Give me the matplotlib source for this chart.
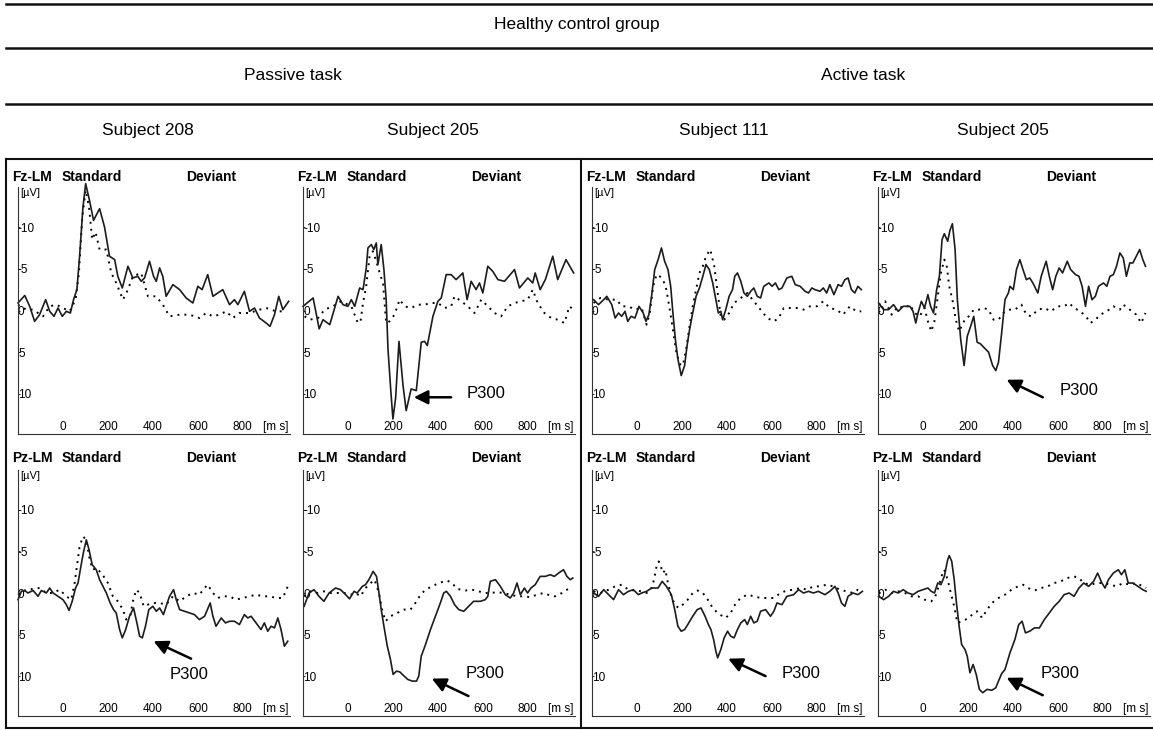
import matplotlib
matplotlib.use('Agg')
import matplotlib.pyplot as plt
from matplotlib.lines import Line2D

plt.rcParams['font.family'] = 'Liberation Sans'

W, H = 1153, 730

# ERP curves: time in ms, amplitude in uV (negative plotted upward)
# Fz-LM, passive task, subject 208
fz_208_dev_t = [-200, -170, -148, -126, -104, -77, -59, -40, -22, -3, 15, 33, 47, 62, 74, 89, 101, 118, 136, 163,
                185, 207, 230, 244, 264, 289, 311, 333, 348, 363, 385, 403, 415, 430, 444, 459, 489, 519, 548, 578,
                600, 619, 644, 667, 689, 711, 741, 763, 778, 807, 830, 852, 874, 904, 921, 941, 960, 978, 1004]
fz_208_dev_v = [-0.9, -1.8, -0.5, 1.3, 0.5, -1.3, 0.1, 0.7, -0.3, 0.7, 0.1, 0.3, -1.3, -2.5, -6.5, -12.4, -15.2, -13.2, -10.8, -12.2,
                -10.0, -6.5, -6.1, -4.1, -2.7, -5.3, -3.9, -4.1, -3.5, -3.9, -5.9, -4.1, -3.5, -5.1, -4.1, -1.7, -3.1, -2.5, -1.5, -0.9,
                -2.9, -2.5, -4.3, -1.7, -2.1, -2.5, -0.7, -1.3, -0.7, -2.3, 0.1, -0.3, 0.9, 1.5, 1.9, 0.5, -1.7, -0.1, -1.1]
fz_208_std_t = [-200, -163, -133, -89, -59, -30, 0, 30, 56, 71, 86, 101, 116, 130, 145, 163, 193, 215, 237, 267,
                289, 311, 348, 378, 415, 444, 474, 519, 563, 607, 637, 667, 696, 726, 756, 785, 830, 874, 904, 948, 993]
fz_208_std_v = [-0.7, -0.1, -0.1, 0.7, -0.5, -0.7, -0.3, 0.1, -1.3, -4.5, -11.2, -14.4, -12.4, -8.5, -9.4, -7.3, -7.3, -4.5, -3.3, -1.3,
                -2.5, -4.1, -4.5, -1.7, -1.7, -0.7, 0.7, 0.5, 0.5, 0.9, 0.3, 0.7, 0.5, 0.1, 0.9, 0.3, 0.3, -0.1, -0.3, 0.1, 0.1]

# Fz-LM, passive task, subject 205
fz_205p_dev_t = [-200, -155, -128, -111, -81, -44, -22, 0, 15, 30, 52, 67, 81, 89, 104, 115, 126, 133, 148, 160,
                 170, 178, 190, 200, 212, 227, 245, 259, 281, 304, 326, 341, 353, 378, 400, 415, 437, 459, 481, 511,
                 530, 548, 570, 585, 600, 622, 644, 667, 696, 741, 763, 800, 822, 833, 855, 878, 911, 933, 970, 1004]
fz_205p_dev_v = [-0.5, -1.5, 2.2, 1.1, 1.7, -1.7, -0.7, -0.5, -1.3, -0.5, -2.7, -2.5, -5.0, -7.5, -7.9, -7.3, -8.1, -5.5, -7.9, -4.9,
                 -1.3, 4.6, 9.4, 13.0, 10.5, 3.7, 9.0, 12.0, 9.4, 9.6, 3.8, 3.7, 4.2, 0.7, -1.1, -1.5, -4.3, -4.3, -3.7, -4.5,
                 -1.3, -3.5, -2.5, -3.3, -2.1, -5.3, -4.7, -3.7, -3.5, -4.9, -2.7, -3.9, -3.3, -4.5, -2.5, -3.7, -6.5, -3.7, -6.1, -4.5]
fz_205p_std_t = [-193, -170, -133, -104, -67, -30, 15, 44, 56, 67, 81, 96, 111, 126, 141, 156, 170, 185, 207, 230,
                 252, 281, 311, 341, 370, 400, 430, 459, 474, 504, 533, 563, 593, 622, 652, 681, 711, 741, 770, 800,
                 822, 844, 874, 904, 933, 963, 985, 1004]
fz_205p_std_v = [0.7, 1.1, 0.9, -0.1, -0.5, -1.1, -0.5, 1.5, 1.3, -0.9, -2.9, -6.5, -7.1, -5.9, -4.5, -3.3, 1.5, 1.3, 0.5, -1.3,
                 -0.5, -0.3, -0.7, -0.7, -0.9, -0.9, -0.3, -0.5, -1.7, -1.1, -0.5, 0.3, -1.3, -0.5, 0.3, 0.7, -0.5, -0.9, -1.1, -1.3,
                 -2.5, -0.9, 0.3, 0.9, 1.1, 1.5, -0.5, -0.1]

# Fz-LM, active task, subject 111
fz_111_dev_t = [-193, -171, -148, -134, -112, -97, -82, -68, -53, -41, -26, -9, 9, 28, 40, 53, 65, 79, 94, 109,
                123, 138, 150, 160, 171, 182, 197, 212, 223, 234, 248, 263, 278, 293, 307, 322, 337, 351, 362, 373,
                381, 395, 410, 425, 435, 447, 462, 476, 491, 506, 520, 535, 550, 564, 587, 601, 616, 631, 645, 667,
                689, 704, 726, 748, 763, 778, 792, 814, 829, 844, 858, 876, 895, 910, 925, 939, 954, 969, 983, 998]
fz_111_dev_v = [-1.3, -0.7, -1.3, -1.7, -0.7, 0.9, 0.3, 0.7, 0.1, 1.3, 0.7, 0.9, -0.5, 0.3, 1.3, 0.5, -1.7, -4.9, -6.1, -7.5,
                -5.9, -4.9, -2.9, 0.3, 3.5, 5.8, 7.8, 6.6, 4.2, 2.3, 0.3, -1.7, -2.7, -4.1, -5.5, -4.9, -3.3, -1.3, 0.3, 0.1,
                1.1, -0.1, -1.7, -2.5, -4.1, -4.5, -3.5, -2.1, -1.7, -2.3, -2.7, -1.7, -1.5, -2.9, -3.3, -2.9, -3.3, -2.5, -2.7, -3.9,
                -4.1, -3.1, -2.9, -2.3, -2.1, -2.7, -2.5, -2.3, -2.7, -2.1, -3.1, -1.9, -3.1, -2.9, -3.7, -3.9, -2.5, -2.1, -2.9, -2.5]
fz_111_std_t = [-193, -163, -126, -90, -68, -38, -9, 21, 43, 57, 72, 87, 101, 116, 131, 146, 160, 175, 190, 204,
                219, 234, 248, 263, 278, 293, 307, 326, 344, 359, 373, 388, 410, 432, 462, 491, 520, 550, 579, 609,
                631, 653, 682, 711, 741, 770, 800, 829, 858, 888, 917, 947, 976, 998]
fz_111_std_v = [-0.9, -1.5, -1.3, -1.3, -0.5, -0.5, -0.1, -0.3, 1.7, 0.3, -2.9, -4.3, -4.1, -3.7, -2.5, -0.1, 2.3, 5.0, 6.4, 6.6,
                4.6, 1.9, -0.5, -2.5, -4.5, -5.3, -6.5, -7.3, -5.3, -2.1, 0.7, 1.1, 0.3, -0.9, -1.5, -2.1, -1.1, -0.1, 0.9, 1.3,
                0.9, -0.3, -0.3, -0.3, -0.1, -0.5, -0.5, -1.1, -0.3, -0.1, 0.5, -0.5, 0.1, 0.1]

# Fz-LM, active task, subject 205
fz_205a_dev_t = [-197, -175, -153, -131, -110, -88, -58, -44, -32, -22, -7, 7, 22, 34, 47, 61, 73, 85, 95, 110,
                 120, 131, 143, 153, 168, 183, 197, 212, 226, 241, 256, 270, 292, 310, 324, 336, 350, 365, 380, 387,
                 402, 416, 431, 445, 460, 475, 489, 511, 526, 548, 562, 577, 591, 606, 621, 642, 657, 679, 694, 708,
                 723, 737, 752, 767, 781, 803, 818, 832, 847, 861, 876, 891, 905, 920, 934, 949, 964, 978, 990]
fz_205a_dev_v = [-0.9, -0.1, -0.1, -0.7, 0.1, -0.5, -0.5, 0.1, 1.5, 0.3, -1.1, -0.3, -1.9, -0.5, 0.3, -2.5, -4.1, -8.5, -9.2, -8.3,
                 -9.6, -10.4, -7.3, -1.3, 3.5, 6.6, 3.1, 1.9, 0.7, 3.8, 4.0, 4.4, 5.0, 6.6, 7.2, 6.2, 2.7, -1.3, -2.1, -2.9,
                 -2.5, -4.9, -6.1, -4.9, -3.7, -3.9, -3.3, -2.1, -4.1, -5.9, -4.1, -2.5, -4.1, -5.1, -4.5, -5.9, -4.9, -4.3, -4.1, -2.9,
                 -0.5, -2.9, -1.3, -1.7, -2.9, -3.3, -2.9, -4.1, -4.3, -5.3, -6.9, -6.3, -4.1, -5.7, -5.7, -6.5, -7.3, -6.1, -5.3]
fz_205a_std_t = [-197, -168, -139, -110, -80, -58, -37, -15, 7, 22, 37, 51, 66, 80, 95, 105, 117, 131, 146, 161,
                 175, 190, 204, 226, 248, 270, 292, 314, 336, 358, 380, 409, 438, 460, 482, 511, 540, 569, 599, 628,
                 650, 672, 701, 730, 745, 767, 789, 818, 847, 876, 891, 920, 949, 971, 990]
fz_205a_std_v = [-0.7, -1.1, 0.5, -0.5, -0.3, -0.7, 0.3, 0.7, -0.3, 1.3, 2.5, 1.3, -1.7, -4.5, -6.1, -5.5, -2.9, -1.3, 1.1, 2.5,
                 1.7, 0.9, 0.7, -0.1, -0.1, -0.3, -0.1, 1.1, 1.1, 0.3, -0.1, -0.1, -0.7, 0.5, 0.7, -0.1, -0.3, 0.1, -0.5, -0.5,
                 -0.9, -0.3, 0.1, 0.9, 1.5, 1.1, 0.5, 0.1, -0.5, -0.1, -0.7, -0.1, 0.5, 1.5, 0.3]

# Pz-LM, passive task, subject 208
pz_208_dev_t = [-200, -185, -170, -156, -133, -111, -96, -74, -59, -44, -22, 0, 15, 27, 41, 56, 67, 81, 92, 104,
                116, 130, 148, 163, 178, 193, 210, 225, 237, 252, 264, 279, 296, 314, 329, 341, 353, 367, 382, 400,
                415, 430, 447, 459, 474, 492, 504, 519, 541, 563, 585, 607, 630, 655, 667, 681, 704, 723, 741, 763,
                785, 807, 822, 837, 859, 881, 896, 911, 926, 941, 956, 970, 985, 1000]
pz_208_dev_v = [0.8, -0.2, -0.3, 0, -0.3, 0.4, -0.3, 0, -0.6, 0, 0.4, 0.8, 1.4, 2.1, 1.0, -0.6, -1.2, -3.4, -5.0, -6.4,
                -5.2, -3.4, -2.8, -1.6, -0.8, 0, 1.2, 2.0, 2.4, 4.4, 5.4, 4.4, 2.8, 1.8, 3.6, 5.2, 5.4, 4.0, 2.0, 1.6,
                2.2, 1.8, 2.6, 1.6, 0.4, -0.4, 0.8, 2.0, 2.2, 2.4, 2.6, 3.2, 2.8, 1.2, 2.8, 4.0, 3.0, 3.6, 3.4, 3.4,
                3.8, 2.6, 3.0, 2.8, 3.6, 4.4, 3.6, 4.6, 4.0, 4.2, 3.0, 4.4, 6.4, 5.8]
pz_208_std_t = [-200, -170, -133, -104, -74, -44, -15, 15, 37, 52, 74, 89, 104, 119, 133, 148, 163, 181, 200, 222,
                244, 267, 281, 299, 311, 326, 341, 359, 378, 400, 430, 459, 489, 519, 548, 578, 607, 630, 644, 667,
                689, 711, 741, 770, 800, 830, 859, 889, 919, 948, 978, 1000]
pz_208_std_v = [0.2, -0.3, -0.5, -0.6, 0, 0, -0.4, 0.4, 0.8, -1.2, -5.6, -6.8, -6.4, -4.0, -2.8, -3.0, -2.6, -2.0, -1.2, 0.4,
                1.0, 2.0, 3.2, 2.8, 1.0, -0.4, 0, 1.6, 1.4, 1.2, 1.2, 1.4, 0.4, 1.0, 0.4, 0, 0.2, -0.6, -1.0, 0,
                0.6, 0.4, 0.4, 0.8, 0.6, 0.4, 0.2, 0.4, 0.4, 0.6, 0.6, -0.8]

# Pz-LM, passive task, subject 205
pz_205p_dev_t = [-195, -173, -151, -129, -107, -84, -55, -33, -10, 7, 27, 41, 64, 78, 93, 112, 127, 138, 148, 160,
                 175, 189, 201, 216, 231, 246, 266, 286, 305, 315, 326, 345, 367, 389, 411, 426, 438, 456, 474, 493,
                 515, 537, 559, 589, 611, 622, 633, 656, 678, 700, 722, 737, 752, 767, 785, 799, 814, 833, 855, 878,
                 900, 918, 937, 959, 974, 989, 1000]
pz_205p_dev_v = [1.6, 0, -0.4, 0.4, 1.0, 0, -0.6, -0.4, 0.2, 0.7, -0.2, 0, -0.8, -1.0, -1.6, -2.6, -2.0, 0, 2.0, 4.0,
                 6.4, 8.0, 9.8, 9.4, 9.5, 9.9, 10.4, 10.6, 10.6, 10.0, 7.6, 6.2, 4.4, 2.8, 1.2, 0, -0.2, 0.4, 1.4, 2.0,
                 2.2, 1.6, 1.0, 1.0, 0.8, 0.4, -1.4, -1.6, -0.8, 0.2, 0.6, 0, -1.2, 0.2, -0.6, 0, -0.6, -1.0, -2.0, -2.0,
                 -2.2, -2.0, -2.4, -2.8, -2.0, -1.6, -1.8]
pz_205p_std_t = [-195, -166, -136, -107, -77, -47, -18, 12, 34, 56, 78, 101, 118, 138, 152, 167, 189, 219, 249, 278,
                 300, 323, 345, 374, 404, 441, 463, 485, 522, 552, 582, 604, 633, 663, 693, 722, 752, 781, 811, 841,
                 870, 900, 922, 952, 974, 1000]
pz_205p_std_v = [0.4, -0.2, 0, -0.2, 0, 0, 0, 0.2, 0, 0.4, -0.6, -1.2, -1.6, 0, 2.0, 3.4, 2.8, 2.4, 2.0, 2.0,
                 1.2, 0.2, -0.4, -0.8, -1.2, -1.5, -1.2, -0.5, -0.3, -0.4, -0.2, 0, 0, -0.1, 0, 0.2, 0.4, 0.4, 0.5, 0.2,
                 0, 0.3, 0.4, 0, -0.4, -0.6]

# Pz-LM, active task, subject 111
pz_111_dev_t = [-193, -171, -148, -126, -104, -82, -60, -38, -16, 6, 21, 43, 65, 94, 112, 131, 153, 168, 182, 197,
                212, 226, 248, 268, 285, 303, 318, 329, 341, 351, 359, 373, 388, 403, 417, 432, 447, 462, 479, 491,
                506, 520, 535, 550, 572, 594, 609, 623, 645, 667, 697, 719, 741, 763, 785, 807, 836, 858, 881, 895,
                910, 925, 939, 961, 983, 1003]
pz_111_dev_v = [0, 0.4, -0.4, 0.2, 0.8, -0.4, 0.2, -0.2, -0.4, 0.2, 0, -0.2, -0.6, -0.6, -1.4, -0.8, 0.2, 2.0, 4.0, 4.6,
                4.4, 3.8, 2.8, 2.0, 1.8, 2.8, 3.8, 4.4, 5.6, 7.0, 7.8, 6.8, 5.4, 4.6, 5.2, 5.4, 4.4, 3.6, 3.2, 3.8,
                2.8, 3.6, 3.4, 2.2, 2.0, 2.8, 2.2, 1.2, 1.4, 0.4, 0.2, -0.4, 0, -0.2, 0, -0.2, 0.2, -0.2, -0.8, 0,
                1.2, 1.6, 0.4, 0, 0.2, -0.2]
pz_111_std_t = [-193, -163, -126, -97, -68, -38, -9, 21, 43, 62, 76, 87, 97, 106, 116, 126, 138, 153, 168, 185,
                204, 226, 248, 270, 293, 315, 337, 359, 381, 395, 417, 440, 462, 491, 520, 550, 579, 609, 638, 667,
                697, 726, 756, 785, 814, 844, 873, 903, 932, 961, 983, 1003]
pz_111_std_v = [-0.2, 0, -0.4, -0.8, -1.0, -0.4, -0.3, -0.2, 0, -0.4, -1.6, -3.2, -3.8, -3.2, -2.4, -2.8, -1.2, 0.4, 1.4, 1.8,
                1.4, 0.8, 0, -0.3, 0, 0.8, 1.8, 2.4, 2.8, 3.0, 2.4, 1.2, 0.6, 0.2, 0.4, 0.6, 0.6, 0.6, 0, -0.3,
                -0.4, -0.6, -0.4, -0.8, -0.8, -1.0, -0.8, -0.4, -0.2, 0, -0.4, -0.2]

# Pz-LM, active task, subject 205
pz_205a_dev_t = [-197, -175, -153, -131, -110, -88, -66, -44, -22, 0, 22, 37, 51, 66, 80, 95, 110, 117, 128, 139,
                 149, 161, 172, 187, 197, 209, 223, 237, 251, 266, 285, 307, 324, 336, 350, 365, 387, 409, 426, 441,
                 456, 475, 496, 518, 540, 562, 584, 606, 628, 650, 672, 694, 715, 737, 759, 777, 796, 810, 825, 847,
                 869, 883, 898, 913, 934, 956, 978, 993]
pz_205a_dev_v = [0.4, 0.8, 0.4, -0.2, 0, -0.4, 0, 0.2, -0.2, -0.4, -0.6, -0.2, 0, -1.2, -1.0, -2.0, -4.0, -4.5, -3.8, -1.6,
                 1.2, 4.0, 6.2, 6.8, 7.6, 9.6, 8.6, 9.8, 11.6, 12.0, 11.6, 11.7, 11.4, 10.6, 9.7, 9.2, 7.2, 5.6, 3.8, 3.4,
                 4.8, 4.6, 4.2, 4.2, 3.2, 2.4, 1.6, 1.0, 0.2, 0, 0.4, -0.6, -1.2, -0.8, -1.4, -2.4, -1.2, -0.6, -1.6, -2.4,
                 -2.8, -2.2, -2.8, -1.2, -1.2, -0.8, -0.4, -0.2]
pz_205a_std_t = [-197, -168, -139, -110, -80, -51, -22, 7, 37, 55, 70, 85, 95, 110, 124, 139, 153, 175, 204, 226,
                 241, 263, 285, 307, 336, 365, 394, 423, 445, 467, 496, 526, 555, 584, 613, 642, 672, 694, 715, 745,
                 774, 803, 832, 861, 891, 920, 949, 978, 993]
pz_205a_std_v = [0, -0.4, 0, -0.2, 0, 0.4, 0.4, 0.8, 1.0, 0.4, -0.8, -2.2, -2.8, -1.6, 0, 1.6, 3.6, 3.4, 3.0, 2.4,
                 2.2, 3.0, 2.0, 1.2, 0.6, 0.2, -0.4, -0.8, -1.0, -0.6, -0.3, -0.6, -0.8, -1.2, -1.4, -1.8, -2.0, -1.8, -1.2, -1.0,
                 -1.2, -1.2, -1.0, -0.8, -1.2, -1.0, -1.2, -0.8, -0.6]

# P300 arrows: (tail t, tail uV, tip t, tip uV, label t, label uV)
p300_fz_205p = (459, 10.4, 293, 10.4, 526, 10.0)
p300_fz_205a = (533, 10.4, 372, 8.3, 606, 9.6)
p300_pz_208 = (570, 7.9, 403, 5.8, 474, 9.8)
p300_pz_205p = (536, 12.4, 373, 10.3, 522, 9.7)
p300_pz_111 = (572, 10.0, 406, 7.9, 645, 9.7)
p300_pz_205a = (533, 12.3, 372, 10.2, 523, 9.7)

y_ticks = [-10, -5, 0, 5, 10]
y_tick_labels = ['-10', '-5', '0', '5', '10']
x_ticks = [0, 200, 400, 600, 800]
x_tick_labels = ['0', '200', '400', '600', '800']

subjects = ['Subject 208', 'Subject 205', 'Subject 111', 'Subject 205']
tasks = ['Passive task', 'Active task']

# panel layout in pixels
AXIS_X = [18, 303, 592, 878]
ROWS = [(187, 434), (470, 716)]
AX_W = 272

panels = [
    (0, 0, 'Fz-LM', fz_208_dev_t, fz_208_dev_v, fz_208_std_t, fz_208_std_v, None),
    (1, 0, 'Fz-LM', fz_205p_dev_t, fz_205p_dev_v, fz_205p_std_t, fz_205p_std_v, p300_fz_205p),
    (2, 0, 'Fz-LM', fz_111_dev_t, fz_111_dev_v, fz_111_std_t, fz_111_std_v, None),
    (3, 0, 'Fz-LM', fz_205a_dev_t, fz_205a_dev_v, fz_205a_std_t, fz_205a_std_v, p300_fz_205a),
    (0, 1, 'Pz-LM', pz_208_dev_t, pz_208_dev_v, pz_208_std_t, pz_208_std_v, p300_pz_208),
    (1, 1, 'Pz-LM', pz_205p_dev_t, pz_205p_dev_v, pz_205p_std_t, pz_205p_std_v, p300_pz_205p),
    (2, 1, 'Pz-LM', pz_111_dev_t, pz_111_dev_v, pz_111_std_t, pz_111_std_v, p300_pz_111),
    (3, 1, 'Pz-LM', pz_205a_dev_t, pz_205a_dev_v, pz_205a_std_t, pz_205a_std_v, p300_pz_205a),
]


def fx(px):
    return px / W


def fy(py):
    return 1 - py / H


fig = plt.figure(figsize=(W / 100, H / 100), dpi=100)

for col, row, elec, dt, dv, st, sv, arrow in panels:
    x0 = AXIS_X[col]
    top, bot = ROWS[row]
    ax = fig.add_axes([fx(x0), fy(bot), AX_W / W, (bot - top) / H])
    ax.patch.set_alpha(0)
    ax.plot(st, sv, color='black', lw=1.4, ls=(0, (1, 2.6)), clip_on=False)
    ax.plot(dt, dv, color='#1c1c1c', lw=1.2, clip_on=False)
    ax.set_xlim(-200, 1010)
    ax.set_ylim(14.8, -14.8)
    for s in ['top', 'right']:
        ax.spines[s].set_visible(False)
    for s in ['left', 'bottom']:
        ax.spines[s].set_linewidth(0.8)
        ax.spines[s].set_color('#333333')
    ax.set_yticks(y_ticks)
    ax.set_yticklabels(y_tick_labels, ha='left')
    ax.tick_params(axis='y', direction='in', length=1.5, width=0.6, pad=0, labelsize=8.5)
    ax.set_xticks(x_ticks)
    ax.set_xticklabels(x_tick_labels)
    ax.tick_params(axis='x', length=0, pad=-9.5, labelsize=8.5)
    ax.text(1003, 0.03, '[m s]', fontsize=8.5, ha='right', va='center',
            transform=ax.get_xaxis_transform())

    if arrow is not None:
        t0, v0, t1, v1, tt, tv = arrow
        ax.annotate('', xy=(t1, v1), xytext=(t0, v0),
                    arrowprops=dict(arrowstyle='-|>,head_length=0.7,head_width=0.35', color='black',
                                    lw=1.8, mutation_scale=12, shrinkA=0, shrinkB=0),
                    annotation_clip=False)
        ax.text(tt, tv, 'P300', fontsize=12, ha='left', va='center')

    hy = top - 10 if row == 0 else top - 12
    fig.text(fx(x0 - 6), fy(hy), elec, fontsize=10, fontweight='bold', va='center')
    fig.text(fx(x0 + 44), fy(hy), 'Standard', fontsize=10, fontweight='bold', va='center')
    fig.text(fx(x0 + 168), fy(hy), 'Deviant', fontsize=10, fontweight='bold', va='center')
    fig.text(fx(x0 + 2), fy(top + 6), '[\u00b5V]', fontsize=8, va='center')

# table-like header
for y in [4, 48, 104]:
    fig.add_artist(Line2D([fx(6), 1], [fy(y), fy(y)], lw=1.8, color='#111111'))
fig.text(fx(577), fy(25), 'Healthy control group', fontsize=12.5, ha='center', va='center')
fig.text(fx(293), fy(76), tasks[0], fontsize=12.5, ha='center', va='center')
fig.text(fx(863), fy(76), tasks[1], fontsize=12.5, ha='center', va='center')
for xc, name in zip([148, 433, 724, 1003], subjects):
    fig.text(fx(xc), fy(131), name, fontsize=12.5, ha='center', va='center')

# frame round the panels
fig.add_artist(Line2D([fx(6), 1], [fy(159), fy(159)], lw=1.5, color='#111111'))
fig.add_artist(Line2D([fx(6), 1], [fy(728), fy(728)], lw=1.5, color='#111111'))
fig.add_artist(Line2D([fx(6), fx(6)], [fy(159), fy(728)], lw=1.5, color='#111111'))
fig.add_artist(Line2D([fx(581), fx(581)], [fy(159), fy(728)], lw=1.5, color='#111111'))

fig.savefig('out.png', dpi=100)
